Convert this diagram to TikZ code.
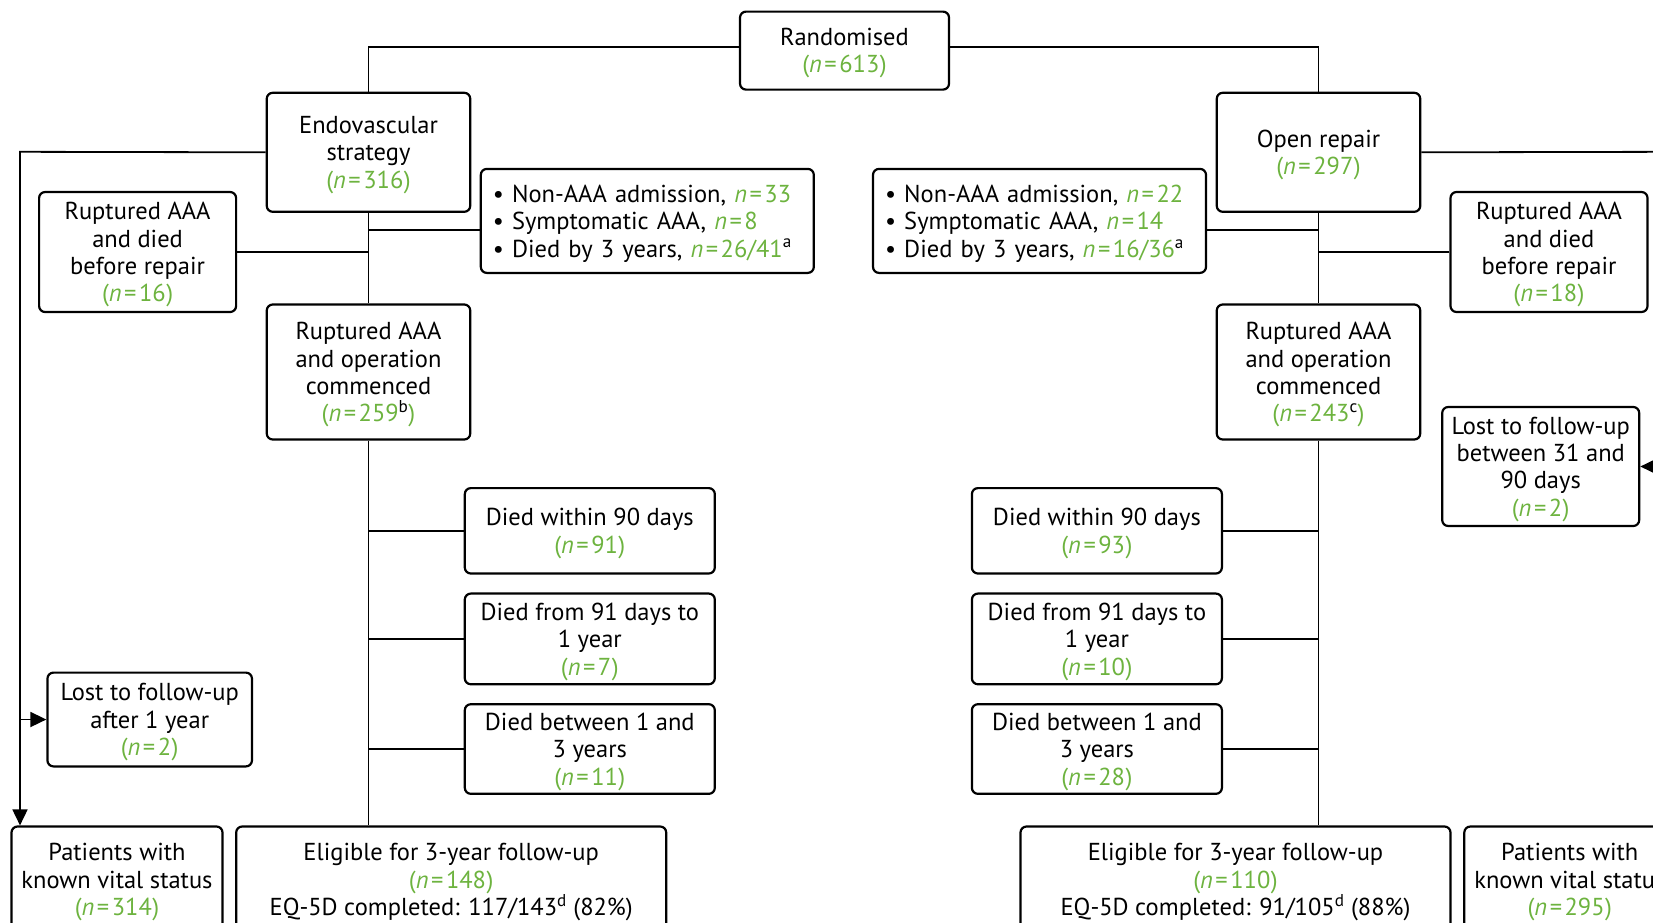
\documentclass[tikz,border=0pt]{standalone}
\usepackage{fontspec}
\setmainfont{PT Sans}
\usetikzlibrary{arrows.meta}
\definecolor{nGreen}{RGB}{109,179,63}
% green (n = ...) with optional black footnote mark
\newcommand{\ncount}[2][]{\textcolor{nGreen}{(\textit{n}\kern2.5pt=\kern2.5pt#2\textsuperscript{\color{black}#1})}}
\newcommand{\nplain}[2][]{\textcolor{nGreen}{\textit{n}\kern2.5pt=\kern2.5pt#2}\textsuperscript{#1}}
\tikzset{
  box/.style={draw, line width=2.2pt, rounded corners=6pt, align=center,
    inner sep=0pt, text depth=0pt, font=\fontsize{24.5}{27.4}\selectfont},
  listbox/.style={box, align=left, inner xsep=12pt, text width=309pt,
    text depth=54.8pt, minimum width=333pt, minimum height=104pt},
  link/.style={line width=1.8pt},
  arrowline/.style={link, -{Triangle[length=16pt,width=15pt]}},
}

\begin{document}
\begin{tikzpicture}[x=1pt, y=-1pt]
    \useasboundingbox (0,0) rectangle (1653,922);
    \clip (0,0) rectangle (1653,922);
    %% Top
    \node[box, minimum width=209pt, minimum height=78pt] (rand) at (844.5,50.6) {Randomised\\\ncount{613}};
    \node[box, minimum width=203.5pt, minimum height=119pt] (endo) at (368.5,152.3) {Endovascular\\strategy\\\ncount{316}};
    \node[box, minimum width=203.5pt, minimum height=119pt] (open) at (1318.5,152.3) {Open repair\\\ncount{297}};
    %% Endovascular arm
    \node[box, minimum width=197pt, minimum height=120pt] (endoRupDied) at (137.6,252) {Ruptured AAA\\and died\\before repair\\\ncount{16}};
    \node[listbox] (endoExcl) at (647.3,220.9) {\textbullet\ Non-AAA admission, \nplain{33}\\\textbullet\ Symptomatic AAA, \nplain{8}\\\textbullet\ Died by 3 years, \nplain[a]{26/41}};
    \node[box, minimum width=203.5pt, minimum height=135pt] (endoRupOp) at (368.5,372) {Ruptured AAA\\and operation\\commenced\\\ncount[b]{259}};
    \node[box, minimum width=250pt, minimum height=85.4pt] (endoD90) at (589.8,530.8) {Died within 90 days\\\ncount{91}};
    \node[box, minimum width=250pt, minimum height=90.7pt] (endoD1y) at (589.8,638.9) {Died from 91 days to\\1 year\\\ncount{7}};
    \node[box, minimum width=250pt, minimum height=89.6pt] (endoD3y) at (589.8,749) {Died between 1 and\\3 years\\\ncount{11}};
    \node[box, minimum width=204.5pt, minimum height=93.8pt] (endoLost) at (149.7,719.5) {Lost to follow-up\\after 1 year\\\ncount{2}};
    \node[box, minimum width=211pt, minimum height=106pt] (endoVital) at (117,879.5) {Patients with\\known vital status\\\ncount{314}};
    \node[box, minimum width=430pt, minimum height=106pt] (endoElig) at (451.2,879.5) {Eligible for 3-year follow-up\\\ncount{148}\\EQ-5D completed: 117/143\textsuperscript{d} (82\%)};
    %% Open repair arm
    \node[listbox] (openExcl) at (1039.5,220.9) {\textbullet\ Non-AAA admission, \nplain{22}\\\textbullet\ Symptomatic AAA, \nplain{14}\\\textbullet\ Died by 3 years, \nplain[a]{16/36}};
    \node[box, minimum width=197pt, minimum height=120pt] (openRupDied) at (1549,252) {Ruptured AAA\\and died\\before repair\\\ncount{18}};
    \node[box, minimum width=203.5pt, minimum height=135pt] (openRupOp) at (1318.5,372) {Ruptured AAA\\and operation\\commenced\\\ncount[c]{243}};
    \node[box, minimum width=197pt, minimum height=119pt] (openLost) at (1540.7,466.5) {Lost to follow-up\\between 31 and\\90 days\\\ncount{2}};
    \node[box, minimum width=250pt, minimum height=85.4pt] (openD90) at (1096.9,530.8) {Died within 90 days\\\ncount{93}};
    \node[box, minimum width=250pt, minimum height=90.7pt] (openD1y) at (1096.9,638.9) {Died from 91 days to\\1 year\\\ncount{10}};
    \node[box, minimum width=250pt, minimum height=89.6pt] (openD3y) at (1096.9,749) {Died between 1 and\\3 years\\\ncount{28}};
    \node[box, minimum width=430pt, minimum height=106pt] (openElig) at (1235.5,879.5) {Eligible for 3-year follow-up\\\ncount{110}\\EQ-5D completed: 91/105\textsuperscript{d} (88\%)};
    \node[box, minimum width=211pt, minimum height=106pt] (openVital) at (1569.8,879.5) {Patients with\\known vital status\\\ncount{295}};
    %% Connectors
    \draw[link] ([yshift=4pt]rand.west) -| (endo.north);
    \draw[link] ([yshift=4pt]rand.east) -| (open.north);
    \draw[link] (endo.south) -- (endoRupOp.north);
    \draw[link] ([yshift=-9pt]endoExcl.west) -- ([yshift=-9pt]endoExcl.west -| endo.south);
    \draw[link] (endoRupDied.east) -- (endoRupDied.east -| endo.south);
    \draw[link] (endoRupOp.south) -- (endoElig.north -| endoRupOp.south);
    \foreach \b in {endoD90,endoD1y,endoD3y}
      \draw[link] (\b.west) -- (\b.west -| endoRupOp.south);
    \draw[link] (open.south) -- (openRupOp.north);
    \draw[link] ([yshift=-9pt]openExcl.east) -- ([yshift=-9pt]openExcl.east -| open.south);
    \draw[link] (openRupDied.west) -- (openRupDied.west -| open.south);
    \draw[link] (openRupOp.south) -- (openElig.north -| openRupOp.south);
    \foreach \b in {openD90,openD1y,openD3y}
      \draw[link] (\b.east) -- (\b.east -| openRupOp.south);
    %% Vital status loops
    \coordinate (endoSide) at (20,151.8);
    \coordinate (openSide) at (1668,151.8);
    \draw[arrowline] (endo.west) -- (endoSide) -- (endoSide |- endoVital.north);
    \draw[arrowline] (endoSide |- endoLost.west) -- (endoLost.west);
    \draw[arrowline] (open.east) -- (openSide) -- (openSide |- openVital.north);
    \draw[arrowline] (openSide |- openLost.east) -- (openLost.east);
\end{tikzpicture}
\end{document}
